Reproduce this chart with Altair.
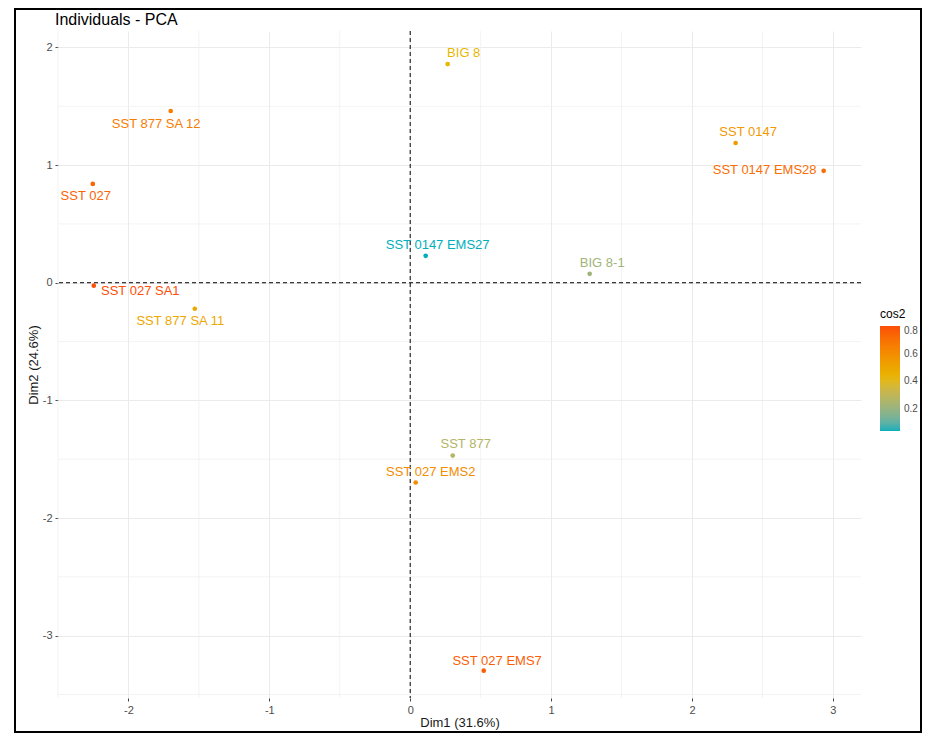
import altair as alt
import pandas as pd

# ---- data ----
names = ["BIG 8", "SST 877 SA 12", "SST 0147", "SST 0147 EMS28", "SST 027",
         "SST 0147 EMS27", "BIG 8-1", "SST 027 SA1", "SST 877 SA 11",
         "SST 877", "SST 027 EMS2", "SST 027 EMS7"]
dim1 = [0.266, -1.700, 2.310, 2.935, -2.253, 0.110, 1.274, -2.246, -1.529, 0.302, 0.039, 0.522]
dim2 = [1.859, 1.460, 1.188, 0.951, 0.840, 0.229, 0.076, -0.025, -0.221, -1.469, -1.698, -3.298]
cos2 = [0.42, 0.66, 0.55, 0.71, 0.74, 0.04, 0.22, 0.80, 0.49, 0.27, 0.60, 0.76]
# label anchor positions (as placed by the repel layout), in data units
label_x = [0.380, -1.803, 2.399, 2.516, -2.303, 0.195, 1.363, -1.916, -1.632, 0.394, 0.146, 0.617]
label_y = [1.952, 1.350, 1.278, 0.955, 0.734, 0.323, 0.166, -0.068, -0.327, -1.375, -1.613, -3.213]

x_ticks = [-2, -1, 0, 1, 2, 3]
y_ticks = [-3, -2, -1, 0, 1, 2]
minor_x = [-2.5, -1.5, -0.5, 0.5, 1.5, 2.5]
minor_y = [-3.5, -2.5, -1.5, -0.5, 0.5, 1.5]
legend_ticks = [0.2, 0.4, 0.6, 0.8]
grad_colors = ["#00AFBB", "#E7B800", "#FC4E07"]
plot_title = "Individuals - PCA"

df = pd.DataFrame({"name": names, "x": dim1, "y": dim2, "cos2": cos2,
                   "lx": label_x, "ly": label_y})

FONT = "Liberation Sans"
XDOM = [-2.5, 3.2]
YDOM = [-3.53, 2.14]
W, H = 803, 667

xs = alt.Scale(domain=XDOM, nice=False, zero=False)
ys = alt.Scale(domain=YDOM, nice=False, zero=False)
cmin, cmax = min(cos2), max(cos2)
cs = alt.Scale(domain=[cmin, (cmin + cmax) / 2, cmax], range=grad_colors,
               type="linear", interpolate="lab")

xaxis = alt.Axis(values=x_ticks, title="Dim1 (31.6%)", grid=True,
                 gridColor="#EBEBEB", gridWidth=1, domain=False,
                 tickColor="#444444", tickSize=3, tickWidth=1,
                 labelExpr="'' + datum.value",
                 labelColor="#4D4D4D", labelFontSize=11, labelPadding=3,
                 titleColor="#1A1A1A", titleFontSize=13, titleFontWeight="normal",
                 titleY=24, titleBaseline="middle")
yaxis = alt.Axis(values=y_ticks, title="Dim2 (24.6%)", grid=True,
                 gridColor="#EBEBEB", gridWidth=1, domain=False,
                 tickColor="#444444", tickSize=3, tickWidth=1,
                 labelExpr="'' + datum.value",
                 labelColor="#4D4D4D", labelFontSize=11, labelPadding=3,
                 titleColor="#1A1A1A", titleFontSize=13, titleFontWeight="normal",
                 titleX=-25, titleBaseline="middle")

minor_v = alt.Chart(pd.DataFrame({"v": minor_x})).mark_rule(
    color="#EEEEEE", strokeWidth=0.7).encode(x=alt.X("v:Q", scale=xs, axis=xaxis))
minor_h = alt.Chart(pd.DataFrame({"v": minor_y})).mark_rule(
    color="#EEEEEE", strokeWidth=0.7).encode(y=alt.Y("v:Q", scale=ys, axis=yaxis))

zero_v = alt.Chart(pd.DataFrame({"v": [0]})).mark_rule(
    color="black", strokeWidth=1, strokeDash=[4, 3]).encode(x=alt.X("v:Q", scale=xs, axis=xaxis))
zero_h = alt.Chart(pd.DataFrame({"v": [0]})).mark_rule(
    color="black", strokeWidth=1, strokeDash=[4, 3]).encode(y=alt.Y("v:Q", scale=ys, axis=yaxis))

color_enc = alt.Color(
    "cos2:Q", scale=cs,
    legend=alt.Legend(title="cos2", values=legend_ticks, orient="none",
                      legendX=822, legendY=278, gradientLength=105,
                      gradientThickness=20, gradientStrokeWidth=0,
                      titleFontSize=12, titleFontWeight="normal", titleColor="#000000",
                      labelFontSize=10, labelColor="#4D4D4D", labelOverlap=False,
                      titlePadding=5, padding=0, labelOffset=4))

points = alt.Chart(df).mark_point(filled=True, size=22, opacity=1).encode(
    x=alt.X("x:Q", scale=xs, axis=xaxis),
    y=alt.Y("y:Q", scale=ys, axis=yaxis),
    color=color_enc,
)

labels = alt.Chart(df).mark_text(fontSize=13, align="center", baseline="middle", font=FONT).encode(
    x=alt.X("lx:Q", scale=xs, axis=xaxis),
    y=alt.Y("ly:Q", scale=ys, axis=yaxis),
    text="name:N",
    color=alt.Color("cos2:Q", scale=cs, legend=None),
)

title = alt.Chart(pd.DataFrame({"t": [plot_title]})).mark_text(
    fontSize=16, align="left", baseline="alphabetic", font=FONT, color="#000000").encode(
    x=alt.value(-3), y=alt.value(-6), text="t:N")

border = alt.Chart(pd.DataFrame({"a": [0]})).mark_rect(
    fill="transparent", stroke="black", strokeWidth=2).encode(
    x=alt.value(-43), x2=alt.value(W + 60), y=alt.value(-22), y2=alt.value(H + 34))

chart = alt.layer(minor_v, minor_h, zero_v, zero_h, points, labels, title, border).properties(
    width=W, height=H,
    autosize=alt.AutoSizeParams(type="none"),
    padding={"left": 50, "top": 23, "right": 61, "bottom": 36},
).configure(font=FONT, background="white").configure_view(stroke=None)

chart.save("out.html", embed_options={"renderer": "svg", "actions": False})
